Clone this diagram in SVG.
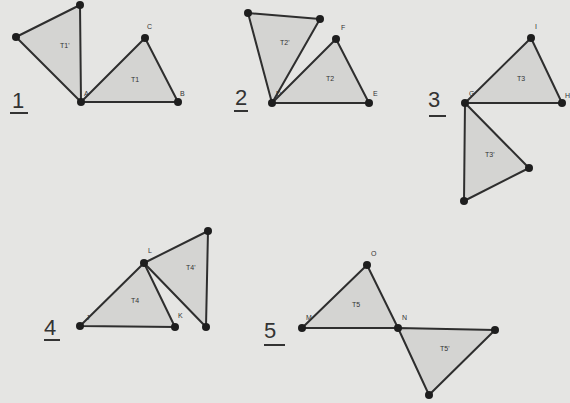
<svg xmlns="http://www.w3.org/2000/svg" width="570" height="403" viewBox="0 0 570 403">
<style>
.tri{fill:#d4d4d2;stroke:#2e2e2e;stroke-width:2;stroke-linejoin:round}
.dot{fill:#1e1e1e}
.lbl{font-family:"Liberation Sans",Arial,sans-serif;font-size:7px;fill:#333}
.num{font-family:"Liberation Sans",Arial,sans-serif;font-size:22px;fill:#333}
.ul{stroke:#333;stroke-width:2}
</style>
<rect width="570" height="403" fill="#e5e5e3"/>
<g id="fig1">
<polygon class="tri" points="16,37 80,5 81,102"/>
<polygon class="tri" points="81,102 145,38 178,102"/>
<circle class="dot" cx="16" cy="37" r="4"/><circle class="dot" cx="80" cy="5" r="4"/><circle class="dot" cx="81" cy="102" r="4"/><circle class="dot" cx="145" cy="38" r="4"/><circle class="dot" cx="178" cy="102" r="4"/>
<text class="lbl" x="60" y="48">T1'</text><text class="lbl" x="131" y="82">T1</text>
<text class="lbl" x="84" y="96">A</text><text class="lbl" x="147" y="29">C</text><text class="lbl" x="180" y="96">B</text>
<text class="num" x="12" y="108">1</text><line class="ul" x1="10" y1="113" x2="28" y2="113"/>
</g>
<g id="fig2">
<polygon class="tri" points="248,13 320,19 272,103"/>
<polygon class="tri" points="272,103 336,39 369,103"/>
<circle class="dot" cx="248" cy="13" r="4"/><circle class="dot" cx="320" cy="19" r="4"/><circle class="dot" cx="272" cy="103" r="4"/><circle class="dot" cx="336" cy="39" r="4"/><circle class="dot" cx="369" cy="103" r="4"/>
<text class="lbl" x="280" y="45">T2'</text><text class="lbl" x="326" y="81">T2</text>
<text class="lbl" x="276" y="96">D</text><text class="lbl" x="341" y="30">F</text><text class="lbl" x="373" y="96">E</text>
<text class="num" x="235" y="105">2</text><line class="ul" x1="234" y1="111" x2="248" y2="111"/>
</g>
<g id="fig3">
<polygon class="tri" points="465,103 531,38 562,103"/>
<polygon class="tri" points="465,103 529,168 464,201"/>
<circle class="dot" cx="531" cy="38" r="4"/><circle class="dot" cx="465" cy="103" r="4"/><circle class="dot" cx="562" cy="103" r="4"/><circle class="dot" cx="529" cy="168" r="4"/><circle class="dot" cx="464" cy="201" r="4"/>
<text class="lbl" x="517" y="81">T3</text><text class="lbl" x="485" y="157">T3'</text>
<text class="lbl" x="469" y="96">G</text><text class="lbl" x="535" y="29">I</text><text class="lbl" x="565" y="98">H</text>
<text class="num" x="428" y="107">3</text><line class="ul" x1="429" y1="116" x2="446" y2="116"/>
</g>
<g id="fig4">
<polygon class="tri" points="80,326 144,263 175,327"/>
<polygon class="tri" points="144,263 208,231 206,327"/>
<circle class="dot" cx="80" cy="326" r="4"/><circle class="dot" cx="175" cy="327" r="4"/><circle class="dot" cx="144" cy="263" r="4"/><circle class="dot" cx="208" cy="231" r="4"/><circle class="dot" cx="206" cy="327" r="4"/>
<text class="lbl" x="131" y="303">T4</text><text class="lbl" x="186" y="270">T4'</text>
<text class="lbl" x="86" y="320">J</text><text class="lbl" x="148" y="253">L</text><text class="lbl" x="178" y="318">K</text>
<text class="num" x="44" y="335">4</text><line class="ul" x1="44" y1="340" x2="60" y2="340"/>
</g>
<g id="fig5">
<polygon class="tri" points="302,328 367,265 398,328"/>
<polygon class="tri" points="398,328 495,330 429,395"/>
<circle class="dot" cx="367" cy="265" r="4"/><circle class="dot" cx="302" cy="328" r="4"/><circle class="dot" cx="398" cy="328" r="4"/><circle class="dot" cx="495" cy="330" r="4"/><circle class="dot" cx="429" cy="395" r="4"/>
<text class="lbl" x="352" y="307">T5</text><text class="lbl" x="440" y="351">T5'</text>
<text class="lbl" x="306" y="320">M</text><text class="lbl" x="371" y="256">O</text><text class="lbl" x="402" y="320">N</text>
<text class="num" x="264" y="338">5</text><line class="ul" x1="264" y1="345" x2="285" y2="345"/>
</g>
</svg>
